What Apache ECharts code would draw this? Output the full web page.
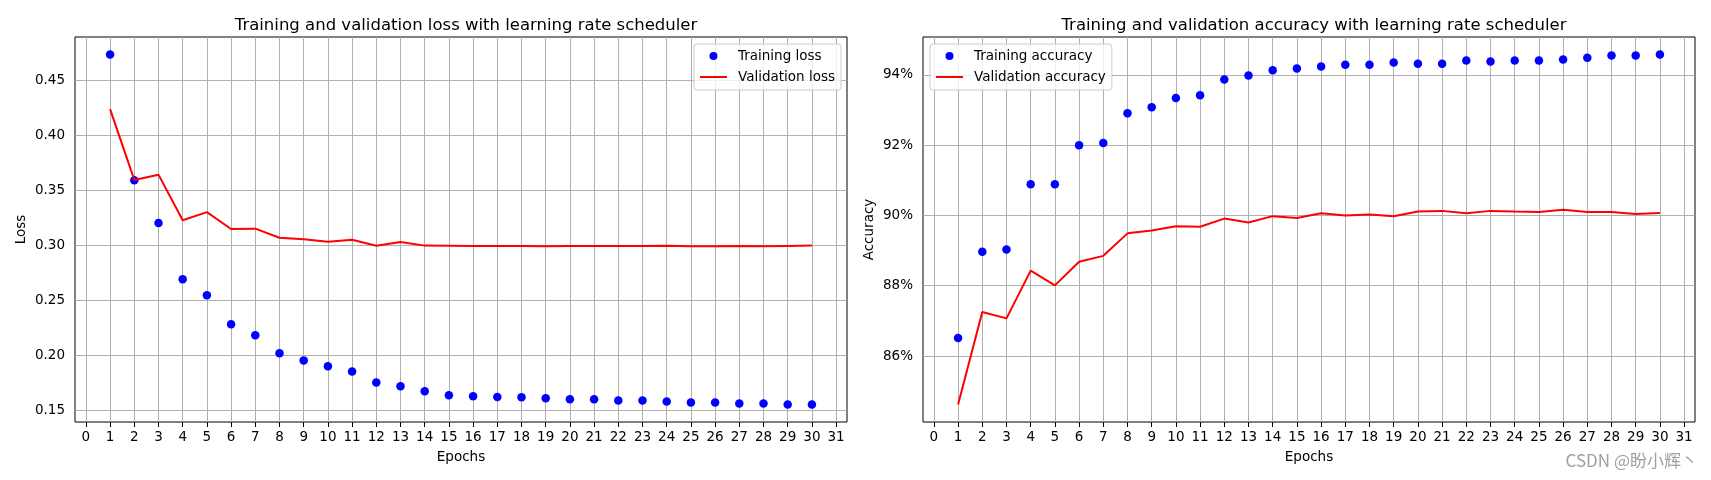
<!DOCTYPE html>
<html>
<head>
<meta charset="utf-8">
<script src="https://cdn.jsdelivr.net/npm/echarts@6/dist/echarts.min.js"></script>
<style>
html,body{margin:0;padding:0;background:#fff;}
#main{width:1711px;height:480px;}
</style>
</head>
<body>
<div id="main"></div>
<script>
const epochs = [1,2,3,4,5,6,7,8,9,10,11,12,13,14,15,16,17,18,19,20,21,22,23,24,25,26,27,28,29,30];
const trainLoss = [0.4734,0.3591,0.3203,0.2691,0.2546,0.2282,0.2182,0.2018,0.1954,0.1900,0.1854,0.1754,0.1718,0.1673,0.1636,0.1628,0.1622,0.1619,0.1610,0.1600,0.1600,0.1590,0.1590,0.1581,0.1572,0.1572,0.1562,0.1562,0.1553,0.1553];
const valLoss = [0.4237,0.3594,0.3642,0.3228,0.3301,0.3148,0.3151,0.3069,0.3055,0.3033,0.3051,0.2996,0.3030,0.2997,0.2996,0.2994,0.2994,0.2994,0.2991,0.2994,0.2994,0.2994,0.2994,0.2996,0.2991,0.2991,0.2994,0.2991,0.2994,0.2997];
const trainAcc = [86.51,88.97,89.03,90.89,90.89,92.00,92.06,92.91,93.08,93.34,93.42,93.87,93.98,94.13,94.18,94.24,94.29,94.29,94.35,94.32,94.32,94.41,94.38,94.41,94.41,94.44,94.49,94.55,94.55,94.58];
const valAcc = [84.62,87.25,87.07,88.43,88.01,88.68,88.85,89.49,89.57,89.69,89.68,89.91,89.80,89.98,89.93,90.06,90.00,90.03,89.98,90.11,90.13,90.06,90.13,90.11,90.10,90.16,90.10,90.10,90.04,90.07];
const xTicks = [0,1,2,3,4,5,6,7,8,9,10,11,12,13,14,15,16,17,18,19,20,21,22,23,24,25,26,27,28,29,30,31];
const lossTicks = [0.15,0.20,0.25,0.30,0.35,0.40,0.45];
const accTicks = [86,88,90,92,94];
const lossTitle = 'Training and validation loss with learning rate scheduler';
const accTitle = 'Training and validation accuracy with learning rate scheduler';

const FONT = 'DejaVu Sans';
const FS = 13.5;

function padRange(arrs) {
  const all = [].concat(...arrs);
  const lo = Math.min(...all), hi = Math.max(...all);
  const m = (hi - lo) * 0.05;
  return [lo - m, hi + m];
}
const xRange = [epochs[0] - 0.05 * (epochs[epochs.length-1] - epochs[0]), epochs[epochs.length-1] + 0.05 * (epochs[epochs.length-1] - epochs[0])];
const lossRange = padRange([trainLoss, valLoss]);
const accRange = padRange([trainAcc, valAcc]);

const pairs = (ys) => epochs.map((e, i) => [e, ys[i]]);

function xAxisCfg(gridIndex) {
  return {
    type: 'value', gridIndex, min: xRange[0], max: xRange[1],
    name: 'Epochs', nameLocation: 'middle', nameGap: 28,
    nameTextStyle: {fontFamily: FONT, fontSize: FS, color: '#000'},
    axisLine: {show: false},
    splitLine: {show: false},
    axisTick: {show: true, customValues: xTicks, length: 5, lineStyle: {color: '#000', width: 1}},
    axisLabel: {show: true, customValues: xTicks, margin: 8, fontFamily: FONT, fontSize: FS, color: '#000'}
  };
}
function yAxisCfg(gridIndex, name, range, ticks, fmt) {
  return {
    type: 'value', gridIndex, min: range[0], max: range[1],
    name, nameLocation: 'middle', nameGap: 47,
    nameTextStyle: {fontFamily: FONT, fontSize: FS, color: '#000'},
    axisLine: {show: false},
    splitLine: {show: false},
    axisTick: {show: true, customValues: ticks, length: 5, lineStyle: {color: '#000', width: 1}},
    axisLabel: {show: true, customValues: ticks, margin: 10, fontFamily: FONT, fontSize: FS, color: '#000', formatter: fmt}
  };
}
function gridSeries(idx, yTicks) {
  return {
    type: 'line', xAxisIndex: idx, yAxisIndex: idx, data: [], silent: true,
    markLine: {
      silent: true, z: 1, symbol: ['none', 'none'], animation: false,
      label: {show: false},
      lineStyle: {color: '#b0b0b0', width: 1, type: 'solid'},
      emphasis: {disabled: true},
      data: xTicks.map(v => ({xAxis: v})).concat(yTicks.map(v => ({yAxis: v})))
    }
  };
}
function legendCfg(pos, names) {
  return Object.assign({
    orient: 'vertical', top: 44,
    itemWidth: 27, itemHeight: 8, itemGap: 7,
    padding: [5, 6, 6, 5],
    borderColor: '#cccccc', borderWidth: 1, borderRadius: 3,
    backgroundColor: 'rgba(255,255,255,0.8)',
    selectedMode: false,
    textStyle: {fontFamily: FONT, fontSize: FS, color: '#000', lineHeight: 14, padding: [0, 0, 0, 6]},
    data: [
      {name: names[0], icon: 'circle', itemStyle: {opacity: 1}},
      {name: names[1], itemStyle: {opacity: 0}}
    ]
  }, pos);
}

const chart = echarts.init(document.getElementById('main'), null, {renderer: 'canvas'});
chart.setOption({
  animation: false,
  backgroundColor: '#fff',
  title: [
    {text: lossTitle, left: 461, top: 12, textAlign: 'center', textStyle: {fontFamily: FONT, fontSize: 16.5, fontWeight: 'normal', color: '#000'}},
    {text: accTitle, left: 1309, top: 12, textAlign: 'center', textStyle: {fontFamily: FONT, fontSize: 16.5, fontWeight: 'normal', color: '#000'}}
  ],
  grid: [
    {left: 75, top: 37, width: 772, height: 385, show: true, borderColor: '#000', borderWidth: 1, backgroundColor: 'transparent'},
    {left: 923, top: 37, width: 772, height: 385, show: true, borderColor: '#000', borderWidth: 1, backgroundColor: 'transparent'}
  ],
  xAxis: [xAxisCfg(0), xAxisCfg(1)],
  yAxis: [
    yAxisCfg(0, 'Loss', lossRange, lossTicks, v => Number(v).toFixed(2)),
    yAxisCfg(1, 'Accuracy', accRange, accTicks, v => Math.round(v) + '%')
  ],
  legend: [
    legendCfg({right: 870}, ['Training loss', 'Validation loss']),
    legendCfg({left: 930}, ['Training accuracy', 'Validation accuracy'])
  ],
  graphic: [{
    type: 'text', right: 13, top: 452,
    style: {text: 'CSDN @盼小辉丶', fill: '#a0a0a0', font: '17px "Noto Sans CJK SC", "DejaVu Sans", sans-serif'},
    silent: true
  }],
  series: [
    gridSeries(0, lossTicks),
    gridSeries(1, accTicks),
    {name: 'Training loss', type: 'scatter', xAxisIndex: 0, yAxisIndex: 0, data: pairs(trainLoss),
     symbol: 'circle', symbolSize: 8.5, itemStyle: {color: '#0000ff', opacity: 1}, z: 3},
    {name: 'Validation loss', type: 'line', xAxisIndex: 0, yAxisIndex: 0, data: pairs(valLoss),
     symbol: 'none', lineStyle: {color: '#ff0000', width: 2}, itemStyle: {color: '#ff0000'}, z: 4},
    {name: 'Training accuracy', type: 'scatter', xAxisIndex: 1, yAxisIndex: 1, data: pairs(trainAcc),
     symbol: 'circle', symbolSize: 8.5, itemStyle: {color: '#0000ff', opacity: 1}, z: 3},
    {name: 'Validation accuracy', type: 'line', xAxisIndex: 1, yAxisIndex: 1, data: pairs(valAcc),
     symbol: 'none', lineStyle: {color: '#ff0000', width: 2}, itemStyle: {color: '#ff0000'}, z: 4}
  ]
});
</script>
</body>
</html>
